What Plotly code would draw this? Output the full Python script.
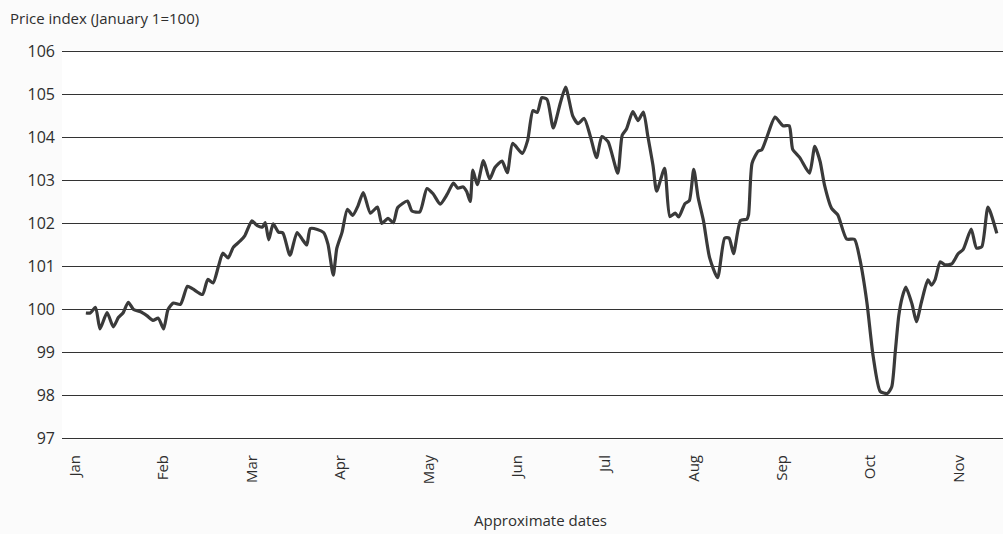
import plotly.graph_objects as go

# Month positions (0 = start of January) and price index values
month_pos = [
    0.12, 0.17, 0.23, 0.28, 0.36, 0.43, 0.49, 0.54, 0.60, 0.66, 0.74, 0.81, 0.88, 0.94,
    1.00, 1.05, 1.11, 1.19, 1.27, 1.33, 1.44, 1.50, 1.56, 1.62, 1.67, 1.73, 1.79, 1.87,
    1.92, 2.00, 2.06, 2.12, 2.15, 2.19, 2.24, 2.30, 2.35, 2.43, 2.51, 2.57, 2.62, 2.66,
    2.74, 2.81, 2.86, 2.92, 2.96, 3.02, 3.08, 3.14, 3.20, 3.26, 3.34, 3.42, 3.47, 3.54,
    3.60, 3.65, 3.76, 3.81, 3.90, 3.98, 4.05, 4.13, 4.21, 4.28, 4.33, 4.39, 4.43, 4.47,
    4.50, 4.55, 4.62, 4.69, 4.75, 4.83, 4.89, 4.95, 5.06, 5.12, 5.18, 5.23, 5.28, 5.34,
    5.41, 5.49, 5.55, 5.63, 5.69, 5.76, 5.83, 5.90, 5.96, 6.03, 6.14, 6.19, 6.24, 6.31,
    6.37, 6.43, 6.48, 6.54, 6.58, 6.67, 6.73, 6.79, 6.83, 6.90, 6.95, 7.00, 7.05, 7.11,
    7.18, 7.27, 7.35, 7.40, 7.45, 7.53, 7.60, 7.62, 7.66, 7.73, 7.77, 7.83, 7.92, 8.01,
    8.08, 8.12, 8.20, 8.31, 8.37, 8.43, 8.48, 8.56, 8.63, 8.73, 8.82, 8.88, 8.96, 9.03,
    9.11, 9.19, 9.24, 9.28, 9.32, 9.36, 9.40, 9.47, 9.52, 9.58, 9.65, 9.69, 9.73, 9.79,
    9.84, 9.92, 9.99, 10.05, 10.14, 10.20, 10.26, 10.33, 10.43,
]
price_index = [
    99.92, 99.92, 100.05, 99.55, 99.93, 99.60, 99.82, 99.92, 100.17, 100.00, 99.95, 99.86, 99.75, 99.80,
    99.55, 100.00, 100.15, 100.12, 100.54, 100.48, 100.35, 100.70, 100.62, 101.00, 101.31, 101.20, 101.45, 101.60,
    101.72, 102.06, 101.95, 101.92, 102.02, 101.62, 101.99, 101.80, 101.78, 101.26, 101.79, 101.63, 101.50, 101.88,
    101.86, 101.79, 101.52, 100.80, 101.42, 101.80, 102.33, 102.19, 102.41, 102.72, 102.24, 102.38, 102.00, 102.12,
    102.02, 102.37, 102.52, 102.29, 102.27, 102.81, 102.69, 102.45, 102.68, 102.94, 102.82, 102.85, 102.74, 102.51,
    103.24, 102.90, 103.46, 103.03, 103.30, 103.45, 103.18, 103.86, 103.63, 103.93, 104.62, 104.58, 104.92, 104.88,
    104.22, 104.80, 105.17, 104.50, 104.32, 104.44, 104.02, 103.53, 104.02, 103.90, 103.17, 104.05, 104.20, 104.60,
    104.39, 104.59, 104.03, 103.33, 102.75, 103.28, 102.16, 102.24, 102.15, 102.46, 102.53, 103.26, 102.60, 102.06,
    101.20, 100.74, 101.66, 101.66, 101.30, 102.07, 102.10, 102.20, 103.40, 103.68, 103.71, 104.02, 104.47, 104.27,
    104.27, 103.72, 103.53, 103.17, 103.79, 103.44, 102.89, 102.35, 102.20, 101.64, 101.63, 101.17, 100.16, 98.92,
    98.10, 98.05, 98.20, 99.00, 99.85, 100.29, 100.52, 100.13, 99.72, 100.20, 100.69, 100.57, 100.69, 101.11,
    101.04, 101.06, 101.29, 101.40, 101.87, 101.43, 101.46, 102.38, 101.77,
]
month_ticks = [0, 1, 2, 3, 4, 5, 6, 7, 8, 9, 10]
month_labels = ["Jan", "Feb", "Mar", "Apr", "May", "Jun", "Jul", "Aug", "Sep", "Oct", "Nov"]
y_ticks = [97, 98, 99, 100, 101, 102, 103, 104, 105, 106]

FONT = "Open Sans, Noto Sans, sans-serif"
INK = "#2e2e2e"

fig = go.Figure()
fig.add_trace(go.Scatter(
    x=month_pos, y=price_index, mode="lines",
    line=dict(color="#3a3a3a", width=3.2, shape="spline", smoothing=0.6),
    hoverinfo="skip", showlegend=False,
))

fig.update_layout(
    width=1003, height=534,
    margin=dict(l=62, r=0, t=50, b=94),
    paper_bgcolor="#fbfbfb", plot_bgcolor="#ffffff",
    font=dict(family=FONT, color=INK, size=15),
    xaxis=dict(
        range=[-0.15, 10.50], tickvals=month_ticks, ticktext=month_labels,
        tickangle=-90, showgrid=False, zeroline=False, showline=False,
        ticks="", tickfont=dict(size=15, color=INK), ticklabelstandoff=11,
    ),
    yaxis=dict(
        range=[96.97, 106.03], tickvals=y_ticks, showgrid=True,
        gridcolor="#333333", gridwidth=1.4, zeroline=False, showline=False,
        ticks="", tickfont=dict(size=16, color=INK), ticklabelstandoff=6,
    ),
    annotations=[
        dict(text="Price index (January 1=100)", xref="paper", yref="paper",
             x=-54 / 941, y=1 + (50 - 18) / 390, xanchor="left", yanchor="middle",
             showarrow=False, font=dict(size=15, color=INK, family=FONT)),
        dict(text="Approximate dates", xref="paper", yref="paper",
             x=(540 - 62) / 941, y=-(520 - 440) / 390, xanchor="center", yanchor="middle",
             showarrow=False, font=dict(size=15, color=INK, family=FONT)),
    ],
)

fig.write_html("out.html", config={"displayModeBar": False})

# remove the default page margin so the figure fills the window exactly
with open("out.html", "r", encoding="utf-8") as f:
    html = f.read()
html = html.replace("<head>", "<head><style>html,body{margin:0;padding:0;overflow:hidden;}</style>", 1)
with open("out.html", "w", encoding="utf-8") as f:
    f.write(html)
